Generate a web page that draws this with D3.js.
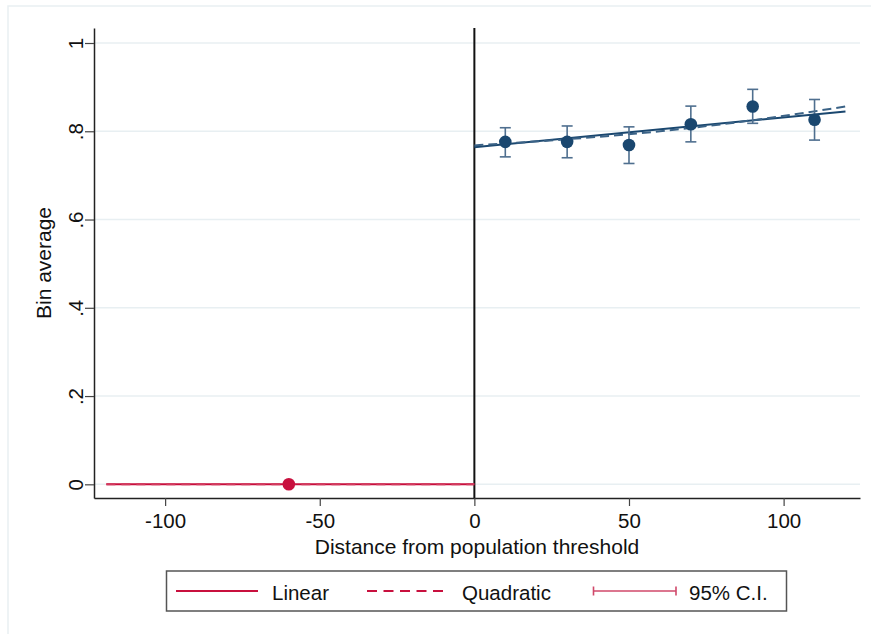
<!DOCTYPE html>
<html>
<head>
<meta charset="utf-8">
<script src="https://cdn.jsdelivr.net/npm/d3@7"></script>
<style>
  html, body { margin: 0; padding: 0; background: #ffffff; }
  svg { display: block; }
  text { font-family: "Liberation Sans", Arial, Helvetica, sans-serif; fill: #111; }
</style>
</head>
<body>
<svg id="chart" width="871" height="634"></svg>
<script>
// Bin averages with 95% confidence intervals
const binX     = [-60, 10, 30, 50, 70, 90, 110];
const binMean  = [0, 0.776, 0.776, 0.769, 0.816, 0.856, 0.826];
const binLow   = [null, 0.742, 0.740, 0.727, 0.776, 0.818, 0.780];
const binHigh  = [null, 0.808, 0.812, 0.810, 0.857, 0.895, 0.872];
const binSide  = ["below", "above", "above", "above", "above", "above", "above"];

// Fitted values on each side of the threshold
const linBelowX = [-119, 0];
const linBelowY = [0, 0];
const quadBelowX = [-119, 0];
const quadBelowY = [0, 0];
const linAboveX = [0, 120];
const linAboveY = [0.764, 0.845];
const quadAboveX = [0, 30, 60, 90, 120];
const quadAboveY = [0.768, 0.782, 0.800, 0.825, 0.856];

// Axis ticks
const xTicks = [-100, -50, 0, 50, 100];
const xTickLabels = ["-100", "-50", "0", "50", "100"];
const yTicks = [0, 0.2, 0.4, 0.6, 0.8, 1];
const yTickLabels = ["0", ".2", ".4", ".6", ".8", "1"];

// Legend entries
const legendLabels = ["Linear", "Quadratic", "95% C.I."];

const colorAbove = "#1a476f";
const colorAboveCI = "#4f6f8f";
const colorBelow = "#c8103e";
const colorBelowCI = "#d0486a";
const gridColor = "#e8eff2";

const svg = d3.select("#chart");

// Outer graph region frame
svg.append("rect")
  .attr("x", 8).attr("y", 6)
  .attr("width", 900).attr("height", 660)
  .attr("fill", "#ffffff")
  .attr("stroke", "#e9eff2")
  .attr("stroke-width", 1.5);

const x = d3.scaleLinear().domain([-123, 124.7]).range([94, 860]);
const y = d3.scaleLinear().domain([-0.031, 1.034]).range([498, 28]);
const [xl, xr] = x.range();
const [yb, yt] = y.range();

// Horizontal grid lines
svg.append("g")
  .selectAll("line")
  .data(yTicks)
  .join("line")
  .attr("x1", xl).attr("x2", xr)
  .attr("y1", d => y(d)).attr("y2", d => y(d))
  .attr("stroke", gridColor)
  .attr("stroke-width", 1.5);

// Y axis
const yAxis = d3.axisLeft(y)
  .tickValues(yTicks)
  .tickFormat((d, i) => yTickLabels[i])
  .tickSize(9)
  .tickSizeOuter(0);
const gy = svg.append("g").attr("transform", `translate(${xl},0)`).call(yAxis);
gy.select(".domain").attr("stroke", "#222").attr("stroke-width", 1.5);
gy.selectAll(".tick line").attr("stroke", "#444").attr("stroke-width", 1.2);
gy.selectAll(".tick text")
  .attr("x", 0).attr("dy", 0)
  .attr("text-anchor", "middle")
  .attr("transform", "translate(-11,0) rotate(-90)")
  .style("font-size", "20.5px")
  .style("font-family", "'Liberation Sans', Arial, sans-serif")
  .attr("fill", "#111");

// X axis
const xAxis = d3.axisBottom(x)
  .tickValues(xTicks)
  .tickFormat((d, i) => xTickLabels[i])
  .tickSize(8)
  .tickSizeOuter(0);
const gx = svg.append("g").attr("transform", `translate(0,${yb})`).call(xAxis);
gx.select(".domain").attr("stroke", "#222").attr("stroke-width", 1.5);
gx.selectAll(".tick line").attr("stroke", "#444").attr("stroke-width", 1.2);
gx.selectAll(".tick text")
  .attr("y", 30).attr("dy", 0)
  .style("font-size", "20.5px")
  .style("font-family", "'Liberation Sans', Arial, sans-serif")
  .attr("fill", "#111");

// Axis titles
svg.append("text")
  .attr("x", (xl + xr) / 2).attr("y", 554)
  .attr("text-anchor", "middle")
  .style("font-size", "21px")
  .text("Distance from population threshold");
svg.append("text")
  .attr("transform", `translate(51,${(yb + yt) / 2}) rotate(-90)`)
  .attr("text-anchor", "middle")
  .style("font-size", "21px")
  .text("Bin average");

// Threshold line
svg.append("line")
  .attr("x1", x(0)).attr("x2", x(0))
  .attr("y1", yt).attr("y2", yb)
  .attr("stroke", "#111")
  .attr("stroke-width", 2);

const line = d3.line().x(d => x(d[0])).y(d => y(d[1]));
const curve = d3.line().x(d => x(d[0])).y(d => y(d[1])).curve(d3.curveMonotoneX);
const zip = (a, b) => a.map((v, i) => [v, b[i]]);

// Fits below the threshold
svg.append("path").datum(zip(linBelowX, linBelowY))
  .attr("d", line).attr("fill", "none")
  .attr("stroke", colorBelow).attr("stroke-width", 2);
svg.append("path").datum(zip(quadBelowX, quadBelowY))
  .attr("d", curve).attr("fill", "none")
  .attr("stroke", "#d23a5e").attr("stroke-width", 2)
  .attr("stroke-dasharray", "9,6");

// Fits above the threshold
svg.append("path").datum(zip(linAboveX, linAboveY))
  .attr("d", line).attr("fill", "none")
  .attr("stroke", colorAbove).attr("stroke-width", 2);
svg.append("path").datum(zip(quadAboveX, quadAboveY))
  .attr("d", curve).attr("fill", "none")
  .attr("stroke", "#3a6286").attr("stroke-width", 2)
  .attr("stroke-dasharray", "9,5");

// Confidence interval caps
const bins = binX.map((v, i) => ({ x: v, m: binMean[i], lo: binLow[i], hi: binHigh[i], side: binSide[i] }));
const ci = svg.append("g")
  .selectAll("g")
  .data(bins.filter(d => d.lo !== null))
  .join("g")
  .attr("stroke", d => d.side === "above" ? colorAboveCI : colorBelowCI)
  .attr("stroke-width", 1.6);
ci.append("line")
  .attr("x1", d => x(d.x)).attr("x2", d => x(d.x))
  .attr("y1", d => y(d.lo)).attr("y2", d => y(d.hi));
ci.append("line")
  .attr("x1", d => x(d.x) - 5.5).attr("x2", d => x(d.x) + 5.5)
  .attr("y1", d => y(d.lo)).attr("y2", d => y(d.lo));
ci.append("line")
  .attr("x1", d => x(d.x) - 5.5).attr("x2", d => x(d.x) + 5.5)
  .attr("y1", d => y(d.hi)).attr("y2", d => y(d.hi));

// Bin markers
svg.append("g")
  .selectAll("circle")
  .data(bins)
  .join("circle")
  .attr("cx", d => x(d.x)).attr("cy", d => y(d.m))
  .attr("r", 6.3)
  .attr("fill", d => d.side === "above" ? colorAbove : colorBelow);

// Legend
const lg = svg.append("g");
lg.append("rect")
  .attr("x", 166.5).attr("y", 571)
  .attr("width", 620).attr("height", 40)
  .attr("fill", "#ffffff")
  .attr("stroke", "#555")
  .attr("stroke-width", 1.5);
const keyY = 591;
lg.append("line")
  .attr("x1", 176).attr("x2", 258).attr("y1", keyY).attr("y2", keyY)
  .attr("stroke", colorBelow).attr("stroke-width", 2);
lg.append("line")
  .attr("x1", 367).attr("x2", 449).attr("y1", keyY).attr("y2", keyY)
  .attr("stroke", colorBelow).attr("stroke-width", 2)
  .attr("stroke-dasharray", "10,6.5");
lg.append("line")
  .attr("x1", 593.5).attr("x2", 676).attr("y1", keyY).attr("y2", keyY)
  .attr("stroke", colorBelowCI).attr("stroke-width", 1.6);
lg.append("line")
  .attr("x1", 593.5).attr("x2", 593.5).attr("y1", keyY - 4.5).attr("y2", keyY + 4.5)
  .attr("stroke", colorBelowCI).attr("stroke-width", 1.6);
lg.append("line")
  .attr("x1", 676).attr("x2", 676).attr("y1", keyY - 4.5).attr("y2", keyY + 4.5)
  .attr("stroke", colorBelowCI).attr("stroke-width", 1.6);
const labelX = [272, 462, 689];
lg.selectAll("text.lbl")
  .data(legendLabels)
  .join("text")
  .attr("class", "lbl")
  .attr("x", (d, i) => labelX[i])
  .attr("y", 600)
  .style("font-size", "20.5px")
  .text(d => d);
</script>
</body>
</html>
